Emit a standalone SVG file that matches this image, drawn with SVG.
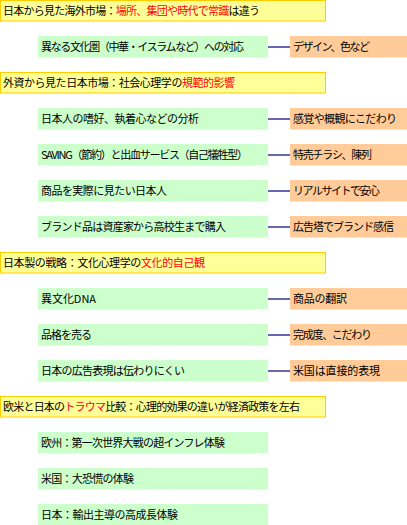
<svg xmlns="http://www.w3.org/2000/svg" width="407" height="525" viewBox="0 0 407 525">
<style>
text{font-family:"Noto Sans CJK JP","Noto Sans",sans-serif;font-size:11px;fill:#000}
.h{fill:#FFFF99;stroke:#FFCC00;stroke-width:1}
.g{fill:#CCFFCC}
.o{fill:#FFCC99}
.r{fill:#FF0000}
#connectors line{stroke:#000080;stroke-width:1.2}
</style>
<rect width="407" height="525" fill="#fff"/>
<g id="h1"><rect class="h" x="0.5" y="0.5" width="325" height="20.5"/><text x="3" y="15" textLength="257" lengthAdjust="spacing">日本から見た海外市場：<tspan class="r">場所、集団や時代で常識</tspan>は違う</text></g>
<g id="g1"><rect class="g" x="38" y="36" width="230" height="21.5"/><text x="41" y="51" textLength="203" lengthAdjust="spacing">異なる文化圏（中華・イスラムなど）への対応</text></g>
<g id="o1"><rect class="o" x="290" y="36" width="117" height="21.5"/><text x="293" y="51" textLength="77" lengthAdjust="spacing">デザイン、色など</text></g>

<g id="h2"><rect class="h" x="0.5" y="72.5" width="325" height="20.5"/><text x="3" y="87" textLength="232" lengthAdjust="spacing">外資から見た日本市場：社会心理学の<tspan class="r">規範的影響</tspan></text></g>
<g id="g2"><rect class="g" x="38" y="108" width="230" height="21.5"/><text x="41" y="123" textLength="158" lengthAdjust="spacing">日本人の嗜好、執着心などの分析</text></g>
<g id="o2"><rect class="o" x="290" y="108" width="117" height="21.5"/><text x="293" y="123" textLength="104" lengthAdjust="spacing">感覚や概観にこだわり</text></g>
<g id="g3"><rect class="g" x="38" y="144" width="230" height="21.5"/><text x="41" y="159" textLength="207" lengthAdjust="spacing">SAVING（節約）と出血サービス（自己犠牲型）</text></g>
<g id="o3"><rect class="o" x="290" y="144" width="117" height="21.5"/><text x="293" y="159" textLength="79" lengthAdjust="spacing">特売チラシ、陳列</text></g>
<g id="g4"><rect class="g" x="38" y="180" width="230" height="21.5"/><text x="41" y="195" textLength="126" lengthAdjust="spacing">商品を実際に見たい日本人</text></g>
<g id="o4"><rect class="o" x="290" y="180" width="117" height="21.5"/><text x="293" y="195" textLength="87" lengthAdjust="spacing">リアルサイトで安心</text></g>
<g id="g5"><rect class="g" x="38" y="216" width="230" height="21.5"/><text x="41" y="231" textLength="185" lengthAdjust="spacing">ブランド品は資産家から高校生まで購入</text></g>
<g id="o5"><rect class="o" x="290" y="216" width="117" height="21.5"/><text x="293" y="231" textLength="101" lengthAdjust="spacing">広告塔でブランド感信</text></g>

<g id="h3"><rect class="h" x="0.5" y="252.5" width="325" height="20.5"/><text x="3" y="267" textLength="202" lengthAdjust="spacing">日本製の戦略：文化心理学の<tspan class="r">文化的自己観</tspan></text></g>
<g id="g6"><rect class="g" x="38" y="288" width="230" height="21.5"/><text x="41" y="303" textLength="55" lengthAdjust="spacing">異文化DNA</text></g>
<g id="o6"><rect class="o" x="290" y="288" width="117" height="21.5"/><text x="293" y="303" textLength="54" lengthAdjust="spacing">商品の翻訳</text></g>
<g id="g7"><rect class="g" x="38" y="324" width="230" height="21.5"/><text x="41" y="339" textLength="51" lengthAdjust="spacing">品格を売る</text></g>
<g id="o7"><rect class="o" x="290" y="324" width="117" height="21.5"/><text x="293" y="339" textLength="79" lengthAdjust="spacing">完成度、こだわり</text></g>
<g id="g8"><rect class="g" x="38" y="360" width="230" height="21.5"/><text x="41" y="375" textLength="144" lengthAdjust="spacing">日本の広告表現は伝わりにくい</text></g>
<g id="o8"><rect class="o" x="290" y="360" width="117" height="21.5"/><text x="293" y="375" textLength="87" lengthAdjust="spacing">米国は直接的表現</text></g>

<g id="h4"><rect class="h" x="0.5" y="396.5" width="325" height="20.5"/><text x="3" y="411" textLength="297" lengthAdjust="spacing">欧米と日本の<tspan class="r">トラウマ</tspan>比較：心理的効果の違いが経済政策を左右</text></g>
<g id="g9"><rect class="g" x="38" y="432" width="230" height="21.5"/><text x="41" y="447" textLength="184" lengthAdjust="spacing">欧州：第一次世界大戦の超インフレ体験</text></g>
<g id="g10"><rect class="g" x="38" y="468" width="230" height="21.5"/><text x="41" y="483" textLength="93" lengthAdjust="spacing">米国：大恐慌の体験</text></g>
<g id="g11"><rect class="g" x="38" y="504" width="230" height="21.5"/><text x="41" y="519" textLength="137" lengthAdjust="spacing">日本：輸出主導の高成長体験</text></g>

<g id="connectors">
<line x1="268" y1="47" x2="290" y2="47"/>
<line x1="268" y1="119" x2="290" y2="119"/>
<line x1="268" y1="155" x2="290" y2="155"/>
<line x1="268" y1="191" x2="290" y2="191"/>
<line x1="268" y1="227" x2="290" y2="227"/>
<line x1="268" y1="299" x2="290" y2="299"/>
<line x1="268" y1="335" x2="290" y2="335"/>
<line x1="268" y1="371" x2="290" y2="371"/>
</g>
</svg>
